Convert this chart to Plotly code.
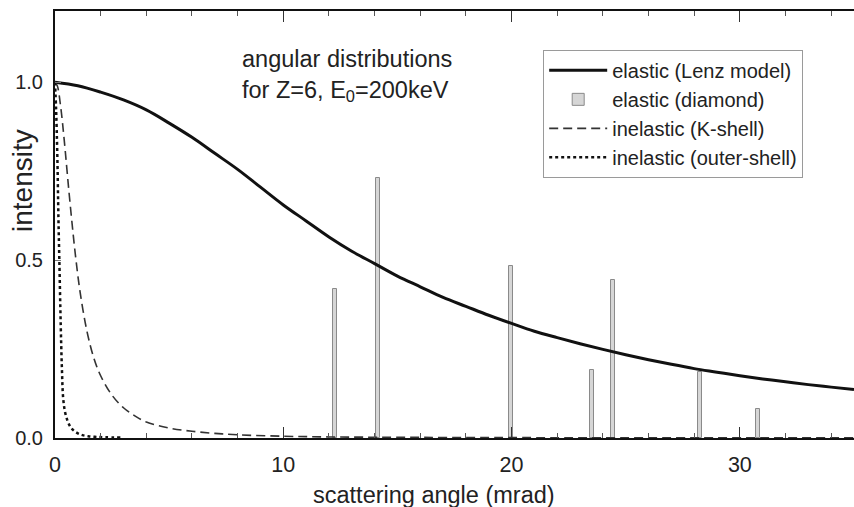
import plotly.graph_objects as go

# scattering angle (mrad) and normalised intensity of each distribution
lenz_theta = [0, 1, 2, 3, 4, 5, 6, 7, 8, 9, 10, 11, 12, 13, 14, 15, 16, 17, 18,
              19, 20, 21, 22, 23, 24, 25, 26, 27, 28, 29, 30, 31, 32, 33, 34, 35]
lenz_int = [1.00, 0.99, 0.972, 0.95, 0.922, 0.885, 0.845, 0.80, 0.755, 0.705,
            0.655, 0.61, 0.565, 0.525, 0.49, 0.455, 0.425, 0.395, 0.37, 0.345,
            0.322, 0.30, 0.282, 0.265, 0.249, 0.234, 0.22, 0.207, 0.195, 0.185,
            0.175, 0.166, 0.158, 0.150, 0.143, 0.136]

diamond_theta = [12.25, 14.13, 19.96, 23.52, 24.45, 28.27, 30.78]
diamond_int = [0.418, 0.73, 0.483, 0.19, 0.444, 0.185, 0.081]

kshell_theta = [0, 0.1, 0.25, 0.4, 0.6, 0.8, 0.92, 1.1, 1.4, 1.7, 2.0, 2.5, 3.0,
                3.5, 4.0, 5.0, 6.0, 7.0, 8.0, 10, 12, 15, 20, 35]
kshell_int = [1.0, 0.99, 0.93, 0.84, 0.70, 0.57, 0.50, 0.41, 0.30, 0.225, 0.175,
              0.12, 0.085, 0.062, 0.045, 0.028, 0.019, 0.013, 0.009, 0.005,
              0.003, 0.002, 0.001, 0.0005]

outer_theta = [0, 0.05, 0.1, 0.15, 0.19, 0.25, 0.3, 0.36, 0.45, 0.55, 0.66, 0.8,
               1.0, 1.2, 1.45, 1.8, 2.2, 2.9]
outer_int = [1.0, 0.92, 0.80, 0.62, 0.50, 0.32, 0.20, 0.11, 0.07, 0.048, 0.033,
             0.022, 0.013, 0.008, 0.005, 0.003, 0.002, 0.001]

x_ticks = [0, 10, 20, 30]
y_ticks = [0.0, 0.5, 1.0]

FONT = "Liberation Sans, Arial, sans-serif"
TXT = "#222222"

fig = go.Figure()

fig.add_trace(go.Bar(
    x=diamond_theta, y=diamond_int, width=0.17,
    name="elastic (diamond)", legendrank=2,
    marker=dict(color="#d6d6d6", line=dict(color="#8a8a8a", width=1)),
))
fig.add_trace(go.Scatter(
    x=lenz_theta, y=lenz_int, mode="lines", line_shape="spline",
    name="elastic (Lenz model)", legendrank=1,
    line=dict(color="#111111", width=3),
))
fig.add_trace(go.Scatter(
    x=kshell_theta, y=kshell_int, mode="lines", line_shape="spline",
    name="inelastic (K-shell)", legendrank=3,
    line=dict(color="#333333", width=1.6, dash="9px,5px"),
))
fig.add_trace(go.Scatter(
    x=outer_theta, y=outer_int, mode="lines", line_shape="spline",
    name="inelastic (outer-shell)", legendrank=4,
    line=dict(color="#111111", width=2.5, dash="dot"),
))

# in-plot caption
fig.add_annotation(
    x=(240 - 55) / 799, y=0.85, xref="paper", yref="paper",
    xanchor="left", yanchor="middle", align="left", showarrow=False,
    text="angular distributions<br>for Z=6, E<sub>0</sub>=200keV",
    font=dict(family=FONT, size=23.5, color=TXT),
)
# axis titles
fig.add_annotation(
    x=(434 - 55) / 799, y=-0.133, xref="paper", yref="paper",
    xanchor="center", yanchor="middle", showarrow=False,
    text="scattering angle (mrad)",
    font=dict(family=FONT, size=23.5, color=TXT),
)
fig.add_annotation(
    x=(22 - 55) / 799, y=(438 - 181) / 427, xref="paper", yref="paper",
    xanchor="center", yanchor="middle", showarrow=False, textangle=-90,
    text="intensity",
    font=dict(family=FONT, size=28, color=TXT),
)

fig.update_layout(
    width=854, height=507,
    margin=dict(l=55, r=0, t=11, b=69),
    paper_bgcolor="white", plot_bgcolor="white",
    font=dict(family=FONT, size=20, color=TXT),
    showlegend=True,
    bargap=0,
    legend=dict(
        x=0.611, y=0.909, xanchor="left", yanchor="top",
        bgcolor="white", bordercolor="#9a9a9a", borderwidth=1,
        font=dict(family=FONT, size=20, color=TXT),
        itemwidth=58, tracegroupgap=0,
    ),
    xaxis=dict(
        range=[0, 35], tickvals=x_ticks, ticktext=[str(v) for v in x_ticks],
        ticks="inside", ticklen=11, tickwidth=1, tickcolor="#333",
        minor=dict(dtick=2, ticks="inside", ticklen=5, tickcolor="#555"),
        showline=True, linecolor="#111", linewidth=2, mirror="ticks",
        showgrid=False, zeroline=False,
        tickfont=dict(family=FONT, size=21.5, color=TXT),
        ticklabelstandoff=6,
    ),
    yaxis=dict(
        range=[0, 1.2], tickvals=y_ticks, ticktext=["0.0", "0.5", "1.0"],
        ticks="inside", ticklen=6, tickwidth=1, tickcolor="#777",
        showline=True, linecolor="#111", linewidth=2,
        showgrid=False, zeroline=False,
        tickfont=dict(family=FONT, size=20, color=TXT),
        ticklabelstandoff=6,
    ),
)

fig.write_html("out.html")
